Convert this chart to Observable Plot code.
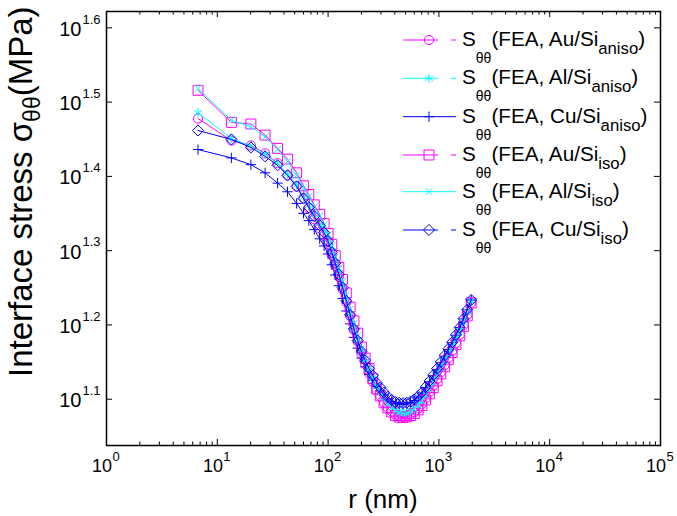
<!DOCTYPE html>
<html><head><meta charset="utf-8">
<script src="https://cdn.jsdelivr.net/npm/d3@7"></script>
<script src="https://cdn.jsdelivr.net/npm/@observablehq/plot@0.6"></script>
<style>
body{margin:0;background:#fff;}
svg{font-family: Arial, "Liberation Sans", sans-serif;}
</style>
</head><body><div id="chart"></div>
<script>
// radius r (nm)
const r = [6.7, 13.4, 20.1, 27, 35, 43, 52, 60, 67, 75, 84, 92, 100, 108, 116, 125, 135, 146, 158, 171, 185, 200, 216, 234, 253, 274, 296, 320, 346, 375, 405, 438, 474, 513, 555, 600, 650, 703, 760, 822, 890, 962, 1041, 1126, 1218, 1318, 1425, 1542, 1668, 1805, 1955];

// interface stress (MPa)
const auAniso = [30.05,28.07,27.65,26.98,26.17,25.2,24.35,23.5,22.75,22.0,
  21.4,20.9,20.35,19.7,19.05,18.4,17.7,17.0,16.3,15.6,
  15.05,14.5,14.05,13.65,13.3,12.95,12.7,12.45,12.25,12.12,
  12.0,11.95,11.94,11.96,12.01,12.09,12.23,12.4,12.62,12.87,
  13.13,13.4,13.69,13.99,14.3,14.62,14.99,15.38,15.84,16.35,16.97];
const alAniso = [30.6,28.25,27.6,26.9,26.15,25.3,24.45,23.55,22.95,22.3,
  21.7,21.2,20.65,19.95,19.3,18.65,17.9,17.17,16.43,15.72,
  15.15,14.6,14.15,13.77,13.43,13.1,12.87,12.65,12.45,12.32,
  12.2,12.14,12.11,12.12,12.17,12.26,12.41,12.59,12.83,13.08,
  13.34,13.62,13.92,14.22,14.53,14.84,15.21,15.59,16.04,16.53,17.08];
const cuAniso = [27.3,26.6,26.05,25.4,24.6,23.95,23.1,22.4,21.9,21.3,
  20.7,20.25,19.75,19.1,18.5,17.9,17.2,16.55,15.9,15.25,
  14.75,14.3,13.92,13.6,13.35,13.1,12.93,12.76,12.6,12.5,
  12.42,12.4,12.39,12.41,12.46,12.54,12.67,12.83,13.05,13.29,
  13.54,13.81,14.1,14.39,14.69,15.0,15.35,15.72,16.15,16.62,17.12];
const auIso = [32.8,29.7,29.55,28.55,27.4,26.5,25.4,24.4,23.75,23.0,
  22.33,21.7,21.05,20.35,19.65,18.95,18.25,17.5,16.75,16.05,
  15.45,14.8,14.3,13.85,13.42,13.0,12.72,12.45,12.25,12.1,
  11.97,11.91,11.9,11.92,11.97,12.05,12.18,12.34,12.56,12.8,
  13.05,13.33,13.62,13.92,14.23,14.55,14.92,15.32,15.78,16.3,16.97];
const alIso = [33.0,29.9,29.3,28.4,27.3,26.3,25.2,24.25,23.6,22.85,
  22.2,21.6,20.95,20.25,19.55,18.88,18.12,17.38,16.63,15.92,
  15.33,14.73,14.24,13.82,13.45,13.1,12.85,12.62,12.42,12.27,
  12.14,12.08,12.05,12.06,12.11,12.2,12.35,12.53,12.77,13.02,
  13.28,13.56,13.86,14.16,14.47,14.79,15.16,15.54,15.99,16.49,17.05];
const cuIso = [28.96,28.17,27.48,26.73,26.0,25.2,24.35,23.45,22.82,22.2,
  21.58,21.1,20.55,19.85,19.2,18.55,17.8,17.08,16.35,15.65,
  15.1,14.6,14.2,13.85,13.55,13.25,13.06,12.86,12.68,12.56,
  12.48,12.45,12.44,12.45,12.5,12.58,12.71,12.86,13.08,13.32,
  13.57,13.84,14.13,14.42,14.72,15.02,15.37,15.73,16.16,16.62,17.12];

// legend labels
const legendMetal = ["Au", "Al", "Cu", "Au", "Al", "Cu"];
const legendSub = ["aniso", "aniso", "aniso", "iso", "iso", "iso"];

// tick labels
const xTickExp = ["0", "1", "2", "3", "4", "5"];
const xMinor = [2,3,4,5,6,7,8,9,20,30,40,50,60,70,80,90,200,300,400,500,600,700,800,900,
  2000,3000,4000,5000,6000,7000,8000,9000,20000,30000,40000,50000,60000,70000,80000,90000];
const yTickExp = ["1.1", "1.2", "1.3", "1.4", "1.5", "1.6"];

const seriesValues = [auAniso, alAniso, cuAniso, auIso, alIso, cuIso];
const styles = [
  {color: "#ff00ff", symbol: "circle", r: 4.6},
  {color: "#00ffff", symbol: "asterisk", r: 4.3},
  {color: "#0000ff", symbol: "plus", r: 3.4},
  {color: "#ff00ff", symbol: "square", r: 5.6},
  {color: "#00ffff", symbol: "times", r: 3.2},
  {color: "#0000ff", symbol: "diamond2", r: 5.0}
];
const gapped = [true, true, false, true, false, true];

const W = 677, H = 516;
const mL = 106, mR = 17, mT = 11, mB = 71;
const fw = W - mL - mR, fh = H - mT - mB;

const marks = [];
seriesValues.forEach((vals, i) => {
  const data = r.map((x, j) => ({r: x, v: vals[j]}));
  const s = styles[i];
  marks.push(Plot.line(data, {x: "r", y: "v", stroke: s.color, strokeWidth: 1}));
  marks.push(Plot.dot(data, {x: "r", y: "v", stroke: s.color, fill: "none", symbol: s.symbol, r: s.r, strokeWidth: 1}));
});

const xMajor = xTickExp.map(e => 10 ** +e);
const yMajor = yTickExp.map(e => 10 ** +e);
marks.push(
  Plot.tickX(xMajor, {x: d => d, insetTop: fh - 6, stroke: "black", strokeWidth: 1}),
  Plot.tickX(xMajor, {x: d => d, insetBottom: fh - 6, stroke: "black", strokeWidth: 1}),
  Plot.tickX(xMinor, {x: d => d, insetTop: fh - 3.5, stroke: "black", strokeWidth: 1}),
  Plot.tickX(xMinor, {x: d => d, insetBottom: fh - 3.5, stroke: "black", strokeWidth: 1}),
  Plot.tickY(yMajor, {y: d => d, insetRight: fw - 6, stroke: "black", strokeWidth: 1}),
  Plot.tickY(yMajor, {y: d => d, insetLeft: fw - 6, stroke: "black", strokeWidth: 1}),
  Plot.frame({stroke: "black", strokeWidth: 1.5}),
  Plot.text(xTickExp, {x: d => 10 ** +d, text: () => "10", frameAnchor: "bottom", dx: -4.4, dy: 26.2, fontSize: 18, textAnchor: "middle", fill: "black"}),
  Plot.text(xTickExp, {x: d => 10 ** +d, text: d => d, frameAnchor: "bottom", dx: 6, dy: 15.5, fontSize: 13, textAnchor: "start", fill: "black"}),
  Plot.text(yTickExp, {y: d => 10 ** +d, text: () => "10", frameAnchor: "left", dx: -25, dy: 1.5, fontSize: 20, textAnchor: "end", fill: "black"}),
  Plot.text(yTickExp, {y: d => 10 ** +d, text: d => d, frameAnchor: "left", dx: -24, dy: -8.5, fontSize: 13, textAnchor: "start", fill: "black"})
);

const plot = Plot.plot({
  width: W, height: H,
  marginLeft: mL, marginRight: mR, marginTop: mT, marginBottom: mB,
  style: {background: "white", fontFamily: 'Arial, "Liberation Sans", sans-serif', overflow: "visible"},
  x: {type: "log", domain: [1, 1e5], axis: null},
  y: {type: "log", domain: [10 ** 1.0377, 10 ** 1.622], axis: null},
  marks
});
document.getElementById("chart").append(plot);

const svg = d3.select(plot);
// x label
svg.append("text").attr("x", 383).attr("y", 508).attr("text-anchor", "middle")
  .attr("font-size", 26).attr("fill", "black").text("r (nm)");
// y label
const yl = svg.append("text").attr("transform", "translate(32,377) rotate(-90)")
  .attr("text-anchor", "start").attr("font-size", 33).attr("fill", "black");
yl.append("tspan").text("Interface stress σ");
yl.append("tspan").attr("font-size", 23).attr("dy", 8).text("θθ");
yl.append("tspan").attr("dy", -8).text("(MPa)");

// legend
const symMap = {circle: d3.symbolCircle, asterisk: d3.symbolAsterisk, plus: d3.symbolPlus,
  square: d3.symbolSquare, times: d3.symbolTimes, diamond2: d3.symbolDiamond2};
const rowY = [40, 78.3, 116.7, 155, 191.7, 230];
const lg = svg.append("g");
styles.forEach((s, i) => {
  const y = rowY[i];
  if (gapped[i]) {
    lg.append("line").attr("x1", 403).attr("x2", 438).attr("y1", y).attr("y2", y).attr("stroke", s.color);
    lg.append("line").attr("x1", 451).attr("x2", 456).attr("y1", y).attr("y2", y).attr("stroke", s.color);
  } else {
    lg.append("line").attr("x1", 403).attr("x2", 456).attr("y1", y).attr("y2", y).attr("stroke", s.color);
  }
  lg.append("path").attr("transform", `translate(429,${y})`)
    .attr("d", d3.symbol(symMap[s.symbol], Math.PI * s.r * s.r)())
    .attr("fill", "none").attr("stroke", s.color);
  const t = lg.append("text").attr("x", 462).attr("y", y + 6).attr("text-anchor", "start")
    .attr("font-size", 20.7).attr("fill", "black");
  t.append("tspan").text("S");
  t.append("tspan").attr("font-size", 14).attr("dy", 17).text("θθ");
  t.append("tspan").attr("dy", -17).text(`(FEA, ${legendMetal[i]}/Si`);
  t.append("tspan").attr("font-size", 16.7).attr("dy", 8).text(legendSub[i]);
  t.append("tspan").attr("dy", -8).text(")");
});
</script>
</body></html>
